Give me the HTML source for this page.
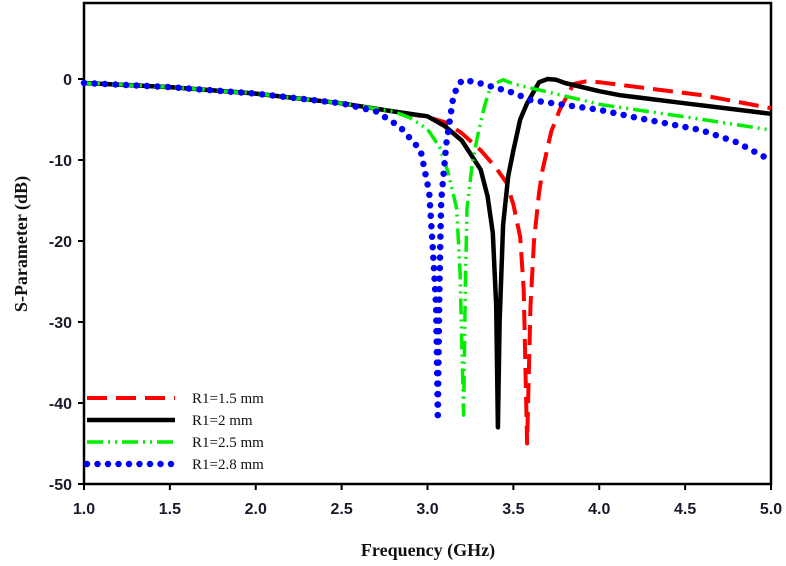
<!DOCTYPE html>
<html><head><meta charset="utf-8"><style>
body{margin:0;background:#fff;}
svg{display:block;}
</style></head><body>
<svg width="786" height="566" viewBox="0 0 786 566">
<g id="plot"></g>
</svg>
<script>
const freqRed = [1.0,1.5,2.0,2.5,2.8,3.0,3.11,3.2,3.31,3.4,3.46,3.5,3.54,3.56,3.58,3.6,3.62,3.65,3.67,3.72,3.77,3.85,3.92,4.0,4.3,4.6,5.0];
const dbRed   = [-0.5,-1.0,-1.8,-3.0,-4.0,-4.7,-5.4,-6.7,-8.8,-11,-12.8,-15.5,-19.5,-26,-45,-28,-20,-14,-11.2,-6.5,-3.8,-0.6,-0.3,-0.4,-1.2,-2,-3.6];
const freqBlack = [1.0,1.5,2.0,2.5,2.8,3.0,3.1,3.2,3.31,3.35,3.38,3.40,3.41,3.42,3.44,3.47,3.5,3.54,3.58,3.62,3.65,3.7,3.75,3.8,4.0,4.12,4.5,5.0];
const dbBlack   = [-0.5,-1.0,-1.8,-3.0,-4.0,-4.6,-5.8,-7.6,-11.2,-14.5,-19,-28,-43,-30,-18,-12,-8.8,-5,-3,-1.5,-0.4,0,-0.1,-0.5,-1.5,-2,-3,-4.3];
const freqGreen = [1.0,1.5,2.0,2.5,2.8,2.9,3.0,3.07,3.12,3.17,3.19,3.21,3.22,3.23,3.26,3.29,3.33,3.36,3.4,3.44,3.5,3.7,4.02,4.51,5.0];
const dbGreen   = [-0.5,-1.0,-1.8,-3.0,-4.0,-4.8,-6.2,-8.4,-11.5,-16,-24,-41.5,-26,-16,-10.5,-7.2,-3.5,-1.4,-0.5,-0.1,-0.6,-1.6,-3.2,-4.7,-6.3];
const freqBlue = [1.0,1.5,2.0,2.5,2.7,2.84,2.96,3.01,3.03,3.05,3.06,3.07,3.08,3.11,3.15,3.18,3.21,3.3,3.5,3.6,4.0,4.2,4.59,4.8,4.95,5.0];
const dbBlue   = [-0.5,-1.0,-1.8,-3.0,-4.0,-5.9,-8.8,-14,-20.7,-28,-41.5,-25,-15,-7.9,-2.2,-0.6,-0.1,-0.5,-1.7,-2.6,-3.8,-4.7,-6.3,-7.8,-9.5,-10];
const xTicks = ["1.0","1.5","2.0","2.5","3.0","3.5","4.0","4.5","5.0"];
const yTicks = ["0","-10","-20","-30","-40","-50"];
const legendLabels = ["R1=1.5 mm","R1=2 mm","R1=2.5 mm","R1=2.8 mm"];

const X0=84,X1=771,Y0=79,Y50=484,TOP=3;
const fx=f=>X0+(f-1)/4*(X1-X0);
const fy=d=>Y0+(-d)/50*(Y50-Y0);
const NS="http://www.w3.org/2000/svg";
const g=document.getElementById('plot');
function mk(t,a){const e=document.createElementNS(NS,t);for(const k in a)e.setAttribute(k,a[k]);g.appendChild(e);return e;}

const frame=mk('rect',{x:X0,y:TOP,width:X1-X0,height:Y50-TOP,fill:'none',stroke:'#000','stroke-width':2.5});



xTicks.forEach(t=>{
  const x=fx(parseFloat(t));
  const l=mk('line',{x1:x,y1:Y50,x2:x,y2:Y50+6,stroke:'#000','stroke-width':2});
  
  
  const tx=mk('text',{x:x,y:Y50+30,'text-anchor':'middle','font-family':'Liberation Sans, sans-serif','font-weight':'bold','font-size':16,fill:'#1a1a2a'});
  tx.textContent=t;
  
  
});
yTicks.forEach(t=>{
  const y=fy(parseFloat(t));
  const l=mk('line',{x1:X0-6,y1:y,x2:X0,y2:y,stroke:'#000','stroke-width':2});
  
  
  const tx=mk('text',{x:X0-12,y:y+6,'text-anchor':'end','font-family':'Liberation Sans, sans-serif','font-weight':'bold','font-size':16,fill:'#1a1a2a'});
  tx.textContent=t;
  
  
});

const xt=mk('text',{x:428,y:556,'text-anchor':'middle','font-family':'Liberation Serif, serif','font-weight':'bold','font-size':18,fill:'#111'});
xt.textContent='Frequency (GHz)';


const yt=mk('text',{x:0,y:0,'text-anchor':'middle','font-family':'Liberation Serif, serif','font-weight':'bold','font-size':18,fill:'#111',transform:'translate(27,244) rotate(-90)'});
yt.textContent='S-Parameter (dB)';



const styles=[
 {c:'#ff0000',w:4,d:'20 9',cap:'butt'},
 {c:'#000000',w:4.5,d:'',cap:'butt'},
 {c:'#00ee00',w:3.5,d:'16 5 2 5 2 5',cap:'butt'},
 {c:'#0000ff',w:6.5,d:'0 10.5',cap:'round'}
];
const series=[[freqRed,dbRed],[freqBlack,dbBlack],[freqGreen,dbGreen],[freqBlue,dbBlue]];
const names=['series-r1-1-5mm','series-r1-2mm','series-r1-2-5mm','series-r1-2-8mm'];
series.forEach((s,i)=>{
  const pts=s[0].map((f,j)=>fx(f).toFixed(1)+','+fy(s[1][j]).toFixed(1)).join(' ');
  const st=styles[i];
  const p=mk('polyline',{points:pts,fill:'none',stroke:st.c,'stroke-width':st.w,'stroke-dasharray':st.d,'stroke-linecap':st.cap,'stroke-linejoin':'round'});
  
  
});
legendLabels.forEach((t,i)=>{
  const y=398+i*22, st=styles[i];
  const l=mk('line',{x1:X0+3,y1:y,x2:175,y2:y,stroke:st.c,'stroke-width':st.w,'stroke-dasharray':st.d,'stroke-linecap':st.cap});
  
  
  const tx=mk('text',{x:192,y:y+5,'font-family':'Liberation Serif, serif','font-size':15,fill:'#111'});
  tx.textContent=t;
  
  
});
</script>
</body></html>
